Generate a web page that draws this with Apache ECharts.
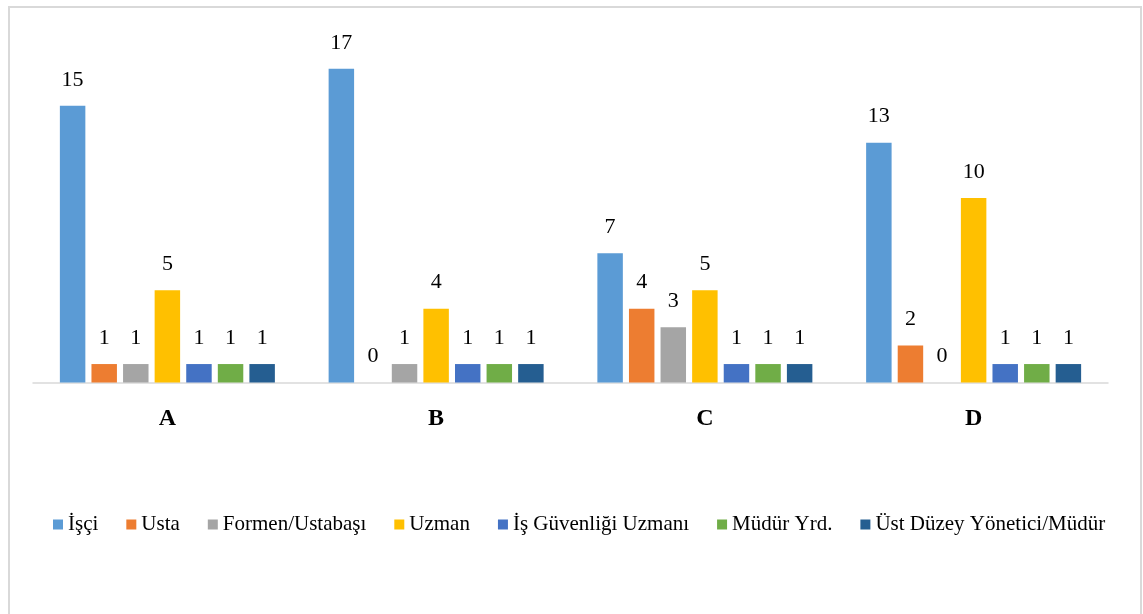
<!DOCTYPE html>
<html>
<head>
<meta charset="utf-8">
<script src="https://cdn.jsdelivr.net/npm/echarts@6/dist/echarts.min.js"></script>
<style>
  html, body { margin: 0; padding: 0; background: #ffffff; }
  #chart { width: 1143px; height: 614px; }
</style>
</head>
<body>
<div id="chart"></div>
<script>
// Groups along the horizontal axis
const categories = ['A', 'B', 'C', 'D'];

// Position names shown in the legend
const seriesNames = [
  'İşçi',
  'Usta',
  'Formen/Ustabaşı',
  'Uzman',
  'İş Güvenliği Uzmanı',
  'Müdür Yrd.',
  'Üst Düzey Yönetici/Müdür'
];

// Counts per group (A, B, C, D)
const isci       = [15, 17, 7, 13];
const usta       = [1, 0, 4, 2];
const formen     = [1, 1, 3, 0];
const uzman      = [5, 4, 5, 10];
const isGuvenlik = [1, 1, 1, 1];
const mudurYrd   = [1, 1, 1, 1];
const ustDuzey   = [1, 1, 1, 1];

const seriesValues = [isci, usta, formen, uzman, isGuvenlik, mudurYrd, ustDuzey];
const colors = ['#5B9BD5', '#ED7D31', '#A5A5A5', '#FFC000', '#4472C4', '#70AD47', '#255E91'];

const serif = '"Liberation Serif", "Times New Roman", serif';

const chart = echarts.init(document.getElementById('chart'), null, { renderer: 'canvas' });

chart.setOption({
  animation: false,
  backgroundColor: '#ffffff',
  color: colors,
  graphic: [{
    type: 'rect',
    shape: { x: 9, y: 7, width: 1132, height: 640 },
    style: { fill: 'none', stroke: '#D9D9D9', lineWidth: 2 },
    silent: true,
    z: -1
  }],
  grid: { left: 33, right: 35, top: 13.5, bottom: 231.5, containLabel: false },
  legend: {
    left: 48,
    top: 509,
    itemWidth: 10,
    itemHeight: 10,
    itemGap: 28,
    icon: 'rect',
    textStyle: { fontFamily: serif, fontSize: 21, color: '#000000' },
    data: seriesNames
  },
  xAxis: {
    type: 'category',
    data: categories,
    axisLine: { lineStyle: { color: '#D9D9D9', width: 1.5 } },
    axisTick: { show: false },
    axisLabel: {
      margin: 24,
      fontFamily: serif,
      fontSize: 24,
      fontWeight: 'bold',
      color: '#000000'
    }
  },
  yAxis: {
    type: 'value',
    min: 0,
    max: 20,
    show: false,
    splitLine: { show: false }
  },
  series: seriesNames.map((name, i) => ({
    name: name,
    type: 'bar',
    data: seriesValues[i],
    barGap: '24%',
    barCategoryGap: '20%',
    label: {
      show: true,
      position: 'top',
      distance: 15,
      fontFamily: serif,
      fontSize: 22,
      color: '#000000'
    }
  }))
});
</script>
</body>
</html>
